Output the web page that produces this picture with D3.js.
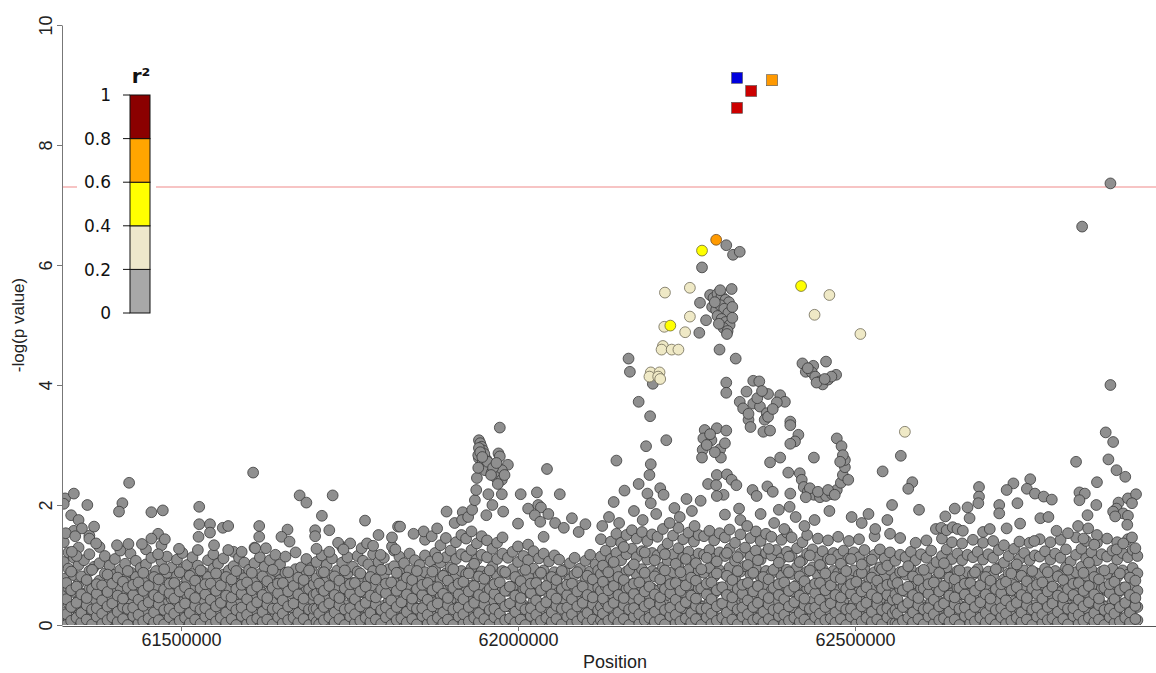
<!DOCTYPE html>
<html>
<head>
<meta charset="utf-8">
<script src="https://cdn.jsdelivr.net/npm/d3@7/dist/d3.min.js"></script>
<style>
body { margin: 0; background: #fff; }
svg { display: block; font-family: "Liberation Sans", Arial, sans-serif; }
</style>
</head>
<body>
<script>
// positions in kb, values are -log10(p)
// background band: [position, values...] per position
const bgWest = [
[61326,.03,.21,.48,.77,1.05,1.38],[61333,.12,.36,.62,.94,1.21],[61341,.06,.29,.55,.83,1.12,1.57],[61348,.17,.41,.69,1.0,1.29],
[61356,.02,.25,.52,.79,1.08],[61364,.09,.33,.6,.9,1.18,1.49],[61371,.14,.38,.66,.97],[61379,.05,.27,.5,.74,1.03,1.3],
[61387,.11,.35,.58,.86,1.15],[61394,.03,.22,.46,.71,.99],[61402,.08,.31,.57,.84,1.1],[61410,.15,.4,.63,.92,1.24],
[61417,.04,.24,.49,.76,1.02],[61425,.1,.34,.59,.88,1.19],[61433,.06,.28,.53,.8,1.07],[61440,.13,.37,.65,.95],
[61448,.02,.23,.47,.72,1.01,1.26],[61456,.09,.32,.56,.83,1.12],[61463,.16,.39,.62,.9],[61471,.05,.26,.51,.78,1.06,1.33],
[61479,.11,.35,.6,.87,1.14],[61486,.03,.21,.44,.7,.96],[61494,.08,.3,.55,.82,1.09],[61502,.14,.38,.64,.93,1.2],
[61509,.06,.27,.5,.75,1.0],[61517,.1,.33,.58,.85,1.13],[61525,.02,.24,.48,.73,.99,1.25],[61532,.12,.36,.61,.89],
[61540,.07,.29,.54,.8,1.08],[61548,.15,.4,.66,.94,1.18],[61555,.04,.25,.49,.74,1.02],[61563,.09,.31,.57,.84,1.11],
[61571,.13,.37,.63,.91],[61578,.03,.22,.46,.71,.98,1.22],[61586,.1,.34,.59,.86,1.12],[61594,.06,.28,.52,.78,1.04],
[61601,.14,.39,.65,.92],[61609,.05,.26,.5,.76,1.03,1.29],[61617,.11,.33,.58,.85,1.13],[61624,.02,.23,.47,.72,.97],
[61632,.08,.3,.56,.82,1.08],[61640,.15,.38,.62,.9,1.17],[61647,.04,.25,.49,.75,1.01],[61655,.12,.35,.6,.87,1.14],
[61663,.07,.29,.53,.79],[61670,.13,.37,.64,.93,1.21],[61678,.03,.22,.45,.7,.96],[61686,.09,.32,.57,.84,1.1],[61693,.16,.4,.66,.95]
]
const bgWestFill = [
[61330,.0,.18,.43,.7],[61337,.07,.3,.58,.89],[61345,.12,.37,.64,1.15],[61352,.04,.2,.51,.81],[61360,.09,.33,.45,.75],[61368,.01,.26,.6,.92],[61375,.14,.28,.52,.68],
[61383,.02,.19,.41,.66],[61391,.08,.31,.55,.84],[61398,.13,.36,.69],[61406,.05,.22,.49,.79],[61414,.1,.3,.44,.72],[61421,.0,.27,.62,.9],[61429,.15,.29,.5,.67],
[61437,.03,.17,.42,.71],[61444,.06,.32,.57,.87],[61452,.11,.38,.65],[61460,.04,.21,.5,.8],[61467,.08,.34,.46,.76],[61475,.01,.25,.59,.93],[61483,.13,.27,.53,.69],
[61490,.0,.19,.44,.7],[61498,.07,.29,.56,.88],[61506,.12,.36,.63],[61513,.03,.2,.52,.82],[61521,.09,.32,.45,.74],[61529,.02,.26,.61,.91],[61536,.14,.28,.51,.68],
[61544,.01,.18,.42,.69],[61552,.06,.31,.57,.86],[61559,.12,.37,.66],[61567,.04,.21,.49,.8],[61575,.1,.33,.46,.76],[61582,.0,.25,.6,.9],[61590,.15,.29,.52,.67],
[61598,.02,.17,.43,.71],[61605,.07,.3,.58,.87],[61613,.11,.38,.64],[61621,.05,.22,.5,.81],[61628,.09,.34,.45,.73],[61636,.01,.27,.62,.92],[61644,.13,.28,.53,.69],
[61651,.03,.19,.41,.7],[61659,.08,.31,.56,.88],[61667,.12,.36,.65],[61674,.04,.2,.51,.79],[61682,.1,.33,.44,.75],[61690,.0,.26,.6,.91],[61697,.14,.27,.5,.68]
]
const bgCentre = [
[61701,.05,.27,.52,.78,1.05],[61709,.11,.34,.6,.88,1.16],[61716,.03,.23,.47,.73,1.0],[61724,.08,.31,.56,.83,1.11],
[61732,.14,.38,.63,.91],[61739,.06,.26,.5,.77,1.04,1.3],[61747,.1,.33,.58,.86,1.13],[61755,.02,.21,.45,.7,.97],
[61762,.13,.36,.61,.89,1.15],[61770,.07,.29,.54,.8,1.07],[61778,.04,.24,.48,.74,1.01],[61785,.12,.35,.62,.9,1.18],
[61793,.06,.28,.53,.79,1.05],[61801,.09,.32,.57,.84,1.12],[61808,.15,.39,.65,.93],[61816,.03,.22,.46,.72,.98,1.24],
[61824,.1,.34,.59,.87,1.14],[61831,.05,.26,.51,.77,1.03],[61839,.13,.37,.63,.91,1.19],[61847,.07,.3,.55,.81,1.08],
[61854,.02,.23,.48,.74,1.0],[61862,.11,.35,.6,.88,1.16,1.42],[61870,.06,.27,.52,.78,1.06],[61877,.14,.38,.64,.92,1.2],
[61885,.04,.25,.5,.76,1.04,1.33],[61893,.09,.32,.58,.86,1.13,1.45],[61900,.16,.4,.67,.96,1.24],[61908,.05,.28,.54,.82,1.1,1.38],
[61916,.12,.36,.62,.9,1.18,1.5],[61923,.07,.3,.56,.85,1.14,1.44],[61931,.14,.39,.66,.95,1.25,1.56],[61939,.03,.26,.52,.8,1.09,1.36],
[61946,.1,.34,.61,.89,1.17,1.48],[61954,.06,.29,.55,.84,1.13,1.41],[61962,.15,.4,.67,.97,1.27],[61969,.04,.27,.53,.81,1.1,1.37],
[61977,.11,.35,.62,.9,1.19,1.46],[61985,.07,.31,.57,.85,1.12],[61992,.13,.38,.64,.93,1.22],[62000,.02,.24,.5,.77,1.05,1.31],
[62008,.09,.33,.59,.87,1.15],[62015,.05,.28,.54,.81,1.08,1.34],[62023,.14,.39,.65,.94,1.23],[62031,.06,.3,.56,.83,1.11],
[62038,.11,.36,.62,.91,1.19,1.47],[62046,.03,.25,.51,.78,1.06],[62054,.1,.34,.6,.88,1.16],[62061,.07,.29,.55,.82,1.09],
[62069,.13,.37,.63,.92],[62077,.04,.26,.5,.76,1.03],[62084,.09,.32,.57,.84,1.12],[62092,.15,.4,.66,.94],
[62100,.06,.27,.52,.79,1.07],[62107,.11,.35,.61,.89,1.17],[62115,.02,.23,.48,.74,1.01]
]
const bgCentreFill = [
[61705,.01,.19,.42,.69],[61712,.08,.3,.57,.88],[61720,.13,.36,.65],[61728,.04,.21,.5,.81],[61735,.1,.33,.45,.74],[61743,.0,.26,.61,.91],[61751,.14,.28,.52,.68],
[61758,.03,.18,.43,.7],[61766,.07,.31,.56,.86],[61774,.12,.37,.64],[61781,.05,.2,.49,.8],[61789,.09,.34,.46,.76],[61797,.02,.25,.59,.92],[61804,.13,.29,.53,.69],
[61812,.0,.19,.41,.71],[61820,.08,.3,.57,.87],[61827,.11,.38,.66],[61835,.04,.22,.51,.79],[61843,.1,.32,.44,.75],[61850,.01,.27,.6,.9],[61858,.15,.28,.5,.67],
[61866,.02,.17,.42,.7],[61873,.07,.31,.58,.89],[61881,.12,.36,.63,1.12],[61889,.03,.21,.52,.82],[61896,.09,.33,.45,.74],[61904,.0,.26,.62,.93],[61912,.14,.29,.51,.69],
[61919,.02,.18,.43,.72],[61927,.06,.3,.56,.86],[61935,.12,.37,.65,1.02],[61942,.05,.2,.5,.81],[61950,.1,.34,.46,.77],[61958,.01,.25,.6,.91],[61965,.13,.27,.52,.68],
[61973,.03,.19,.44,.71],[61981,.08,.31,.57,.88],[61988,.11,.36,.64],[61996,.04,.22,.49,.8],[62004,.09,.33,.45,.73],[62011,.0,.26,.61,.92],[62019,.15,.28,.53,.69],
[62027,.02,.17,.41,.7],[62034,.07,.3,.58,.87],[62042,.12,.38,.65],[62050,.05,.21,.51,.8],[62057,.1,.32,.44,.75],[62065,.01,.27,.6,.9],[62073,.14,.29,.5,.67],
[62080,.03,.18,.43,.69],[62088,.06,.31,.56,.88],[62096,.13,.37,.64],[62103,.04,.2,.5,.82],[62111,.09,.34,.46,.76],[62119,.0,.25,.62,.91]
]
const bgPeak = [
[62123,.08,.31,.57,.85,1.14,1.43],[62130,.14,.38,.65,.94,1.24],[62138,.05,.27,.53,.81,1.1,1.39],[62146,.11,.35,.62,.91,1.2,1.52],
[62153,.03,.25,.51,.79,1.08,1.37],[62161,.09,.33,.6,.89,1.18,1.5],[62169,.16,.41,.68,.97,1.27,1.58],[62176,.06,.29,.55,.84,1.13,1.44],
[62184,.12,.37,.64,.93,1.23,1.55],[62192,.04,.26,.52,.8,1.09,1.4],[62199,.1,.34,.61,.9,1.2,1.51],[62207,.07,.3,.57,.86,1.16,1.47],
[62215,.14,.39,.66,.96,1.26,1.6],[62222,.02,.24,.5,.78,1.07,1.36],[62230,.09,.32,.59,.88,1.18,1.49],[62238,.15,.4,.67,.97,1.28,1.62],
[62245,.05,.28,.54,.83,1.12,1.43],[62253,.12,.36,.63,.92,1.22,1.54],[62261,.03,.25,.51,.79,1.08,1.39],[62268,.1,.34,.61,.9,1.19,1.5],
[62276,.07,.31,.58,.87,1.17,1.48],[62284,.13,.38,.65,.95,1.25,1.57],[62291,.04,.27,.53,.81,1.1,1.41],[62299,.11,.35,.62,.91,1.21,1.53],
[62307,.06,.29,.56,.85,1.15,1.46],[62314,.14,.39,.67,.96,1.27,1.59],[62322,.02,.24,.5,.78,1.07,1.37],[62330,.09,.33,.6,.89,1.19,1.51],
[62337,.15,.41,.68,.98,1.29],[62345,.05,.28,.55,.84,1.14,1.45],[62353,.12,.37,.64,.94,1.24,1.56],[62360,.03,.26,.52,.8,1.09,1.4],
[62368,.1,.34,.61,.9,1.2,1.52],[62376,.07,.3,.57,.86,1.16,1.47],[62383,.13,.38,.66,.95,1.25],[62391,.04,.27,.53,.82,1.11,1.42],
[62399,.11,.36,.63,.92,1.22,1.54],[62406,.06,.29,.56,.85,1.15,1.46],[62414,.14,.4,.67,.97,1.28],[62422,.02,.25,.51,.79,1.08,1.38],
[62429,.09,.33,.6,.89,1.19,1.5],[62437,.15,.39,.66,.96,1.26],[62445,.05,.28,.55,.83,1.13,1.44],[62452,.12,.36,.63,.93,1.23],
[62460,.03,.26,.52,.81,1.1,1.41],[62468,.1,.34,.61,.9,1.2],[62475,.07,.31,.58,.87,1.17,1.47],[62483,.13,.38,.65,.94,1.24],
[62491,.04,.27,.53,.82,1.11,1.4],[62498,.11,.35,.62,.91,1.21],[62506,.06,.29,.56,.84,1.13,1.43],[62514,.14,.39,.66,.95,1.25],
[62521,.02,.24,.5,.78,1.07],[62529,.09,.32,.59,.88,1.17,1.48],[62537,.15,.4,.67,.96,1.26],[62544,.05,.28,.54,.82,1.11],
[62552,.12,.36,.63,.92,1.21,1.52]
]
const bgPeakFill = [
[62126,.01,.19,.44,.72,.99],[62134,.07,.3,.58,.88],[62142,.12,.37,.65,1.05],[62149,.04,.21,.5,.8],[62157,.1,.33,.45,.75,1.3],[62165,.0,.26,.62,.92],[62172,.14,.28,.52,.69,1.01],
[62180,.02,.18,.43,.71],[62188,.08,.31,.56,.87,1.21],[62195,.12,.36,.64],[62203,.05,.22,.51,.81,1.08],[62211,.09,.34,.46,.76],[62218,.01,.25,.6,.91,1.18],[62226,.15,.29,.53,.68],
[62234,.03,.17,.42,.7,1.02],[62241,.06,.3,.57,.88],[62249,.11,.38,.66,1.1],[62257,.04,.2,.49,.79],[62264,.1,.32,.44,.74,1.03],[62272,.0,.27,.61,.93],[62280,.13,.28,.51,.69,1.12],
[62287,.02,.19,.43,.71],[62295,.07,.31,.58,.86,1.06],[62303,.12,.36,.63],[62310,.05,.21,.5,.82,1.2],[62318,.09,.33,.46,.75],[62326,.01,.26,.6,.9,1.13],[62333,.14,.29,.52,.67],
[62341,.03,.18,.41,.7,1.0],[62349,.08,.3,.56,.87],[62356,.11,.37,.65,1.08],[62364,.04,.22,.51,.8],[62372,.1,.34,.45,.76,1.27],[62379,.0,.25,.62,.92],[62387,.15,.28,.5,.68,1.04],
[62395,.02,.17,.43,.71],[62402,.07,.31,.57,.88,1.14],[62410,.12,.38,.64],[62418,.05,.2,.49,.81,1.05],[62425,.09,.33,.44,.73],[62433,.01,.27,.61,.91,1.16],[62441,.13,.29,.53,.69],
[62448,.03,.19,.42,.7,1.0],[62456,.08,.3,.58,.86],[62464,.11,.36,.66,1.09],[62471,.04,.21,.5,.8],[62479,.1,.32,.46,.77,1.02],[62487,.0,.26,.6,.9],[62494,.14,.27,.52,.68,1.1],
[62502,.02,.18,.44,.72],[62510,.06,.31,.56,.87,1.01],[62517,.12,.37,.63],[62525,.05,.22,.51,.79,1.09],[62533,.09,.34,.45,.74],[62540,.01,.25,.61,.93],[62548,.13,.28,.5,.67,.99],[62556,.03,.2,.42,.7]
]
const bgEast = [
[62560,.03,.25,.51,.79,1.07],[62567,.1,.34,.6,.88,1.17,1.45],[62575,.07,.3,.56,.84,1.13],[62583,.13,.38,.65,.93,1.22],
[62590,.04,.26,.52,.8,1.08,1.37],[62598,.11,.35,.61,.89,1.18],[62606,.06,.29,.55,.83,1.12,1.41],[62613,.14,.39,.66,.95,1.24],
[62621,.02,.24,.49,.77,1.05],[62629,.09,.32,.58,.86,1.15,1.44],[62636,.15,.4,.67,.96,1.26],[62644,.05,.27,.53,.81,1.1,1.38],
[62652,.12,.36,.62,.9,1.19],[62659,.03,.25,.51,.79,1.08,1.36],[62667,.1,.34,.6,.88,1.17],[62675,.07,.3,.56,.84,1.13,1.42],
[62682,.13,.38,.64,.93,1.22],[62690,.04,.26,.52,.8,1.09,1.37],[62698,.11,.35,.61,.89,1.18],[62705,.06,.28,.55,.83,1.12,1.4],
[62713,.14,.39,.66,.95,1.25],[62721,.02,.23,.49,.76,1.04,1.33],[62728,.09,.32,.58,.86,1.15],[62736,.15,.4,.67,.97,1.27],
[62744,.05,.27,.53,.81,1.1,1.39],[62751,.12,.36,.62,.91,1.2],[62759,.03,.25,.51,.79,1.08,1.37],[62767,.1,.33,.59,.87,1.16],
[62774,.07,.3,.56,.85,1.14,1.43],[62782,.13,.38,.65,.94,1.23],[62790,.04,.26,.52,.8,1.09,1.38],[62797,.11,.35,.61,.9,1.19],
[62805,.06,.29,.55,.83,1.12,1.42],[62813,.14,.39,.66,.96,1.26],[62820,.02,.24,.5,.78,1.06],[62828,.09,.33,.59,.88,1.17,1.46],
[62836,.15,.4,.67,.97,1.27],[62843,.05,.28,.54,.82,1.11,1.4],[62851,.12,.36,.63,.92,1.21],[62859,.03,.25,.51,.79,1.08,1.37],
[62866,.1,.34,.6,.89,1.18],[62874,.07,.31,.57,.85,1.14,1.44],[62882,.13,.38,.65,.94,1.24],[62889,.04,.26,.52,.8,1.09,1.38],
[62897,.11,.35,.62,.91,1.2],[62905,.06,.29,.55,.84,1.13,1.43],[62912,.14,.39,.66,.95,1.25],[62919,.08,.3,.57,.86,1.15]
]
const bgEastFill = [
[62563,.0,.19,.43,.7],[62571,.07,.3,.58,.89],[62579,.12,.37,.64,.98],[62586,.04,.21,.5,.81],[62594,.1,.33,.45,.75],[62602,.01,.26,.61,.92],[62609,.14,.28,.52,.68],
[62617,.02,.18,.42,.71],[62625,.08,.31,.56,.87],[62632,.11,.36,.65,1.03],[62640,.05,.22,.49,.79],[62648,.09,.34,.46,.76],[62655,.0,.27,.62,.91],[62663,.15,.29,.51,.69],
[62671,.03,.17,.43,.7],[62678,.06,.3,.57,.88],[62686,.12,.38,.66],[62694,.04,.2,.51,.8],[62701,.1,.32,.44,.74],[62709,.01,.25,.6,.93],[62717,.13,.28,.53,.68],
[62724,.02,.19,.41,.72],[62732,.07,.31,.58,.86],[62740,.12,.37,.63,1.01],[62747,.05,.21,.5,.82],[62755,.09,.33,.45,.73],[62763,.0,.26,.61,.9],[62770,.14,.29,.52,.67],
[62778,.03,.18,.44,.71],[62786,.08,.3,.56,.88],[62793,.11,.36,.64],[62801,.04,.22,.49,.81],[62809,.1,.34,.46,.75],[62816,.01,.27,.6,.92],[62824,.15,.28,.5,.69],
[62832,.02,.17,.42,.7],[62839,.07,.31,.57,.87],[62847,.12,.38,.65,1.04],[62855,.05,.2,.51,.8],[62862,.09,.33,.44,.76],[62870,.0,.25,.62,.91],[62878,.13,.27,.53,.68],
[62885,.03,.19,.43,.72],[62893,.06,.3,.58,.86],[62901,.12,.37,.63],[62908,.04,.21,.5,.79],[62916,.1,.32,.45,.74]
]

// scattered grey SNPs (r2 < 0.2) above the band
const greyWest = [
[61328,2.11],[61326,2.02],[61341,2.19],[61361,2.0],[61337,1.83],[61348,1.75],[61353,1.61],[61371,1.64],[61329,1.53],[61343,1.48],
[61364,1.44],[61374,1.36],[61338,1.22],[61423,2.37],[61413,2.03],[61408,1.89],[61456,1.88],[61473,1.91],[61466,1.52],[61476,1.43],
[61456,1.44],[61442,1.35],[61422,1.35],[61405,1.33],[61466,1.18],[61527,1.97],[61527,1.68],[61543,1.68],[61526,1.47],[61543,1.54],
[61562,1.62],[61570,1.65],[61549,1.33],[61497,1.27],[61607,2.54],[61616,1.65],[61616,1.47],[61570,1.25],[61590,1.22],[61610,1.28],
[61626,1.28],[61676,2.16],[61686,2.04],[61725,2.16],[61709,1.82],[61720,1.58],[61658,1.59],[61649,1.47],[61661,1.39],[61699,1.58],
[61699,1.48],[61701,1.27],[61720,1.22],[61733,1.37],[61751,1.36],[61741,1.26],[61768,1.28],[61776,1.36],[61785,1.32],[61796,1.17],
[61813,1.31],[61818,1.26],[61773,1.74],[61793,1.5],[61813,1.46],[61822,1.64],[61825,1.64],[61860,1.56],[61845,1.52],[61872,1.48],[61880,1.61]
]
const greyCentre = [
[61894,1.89],[61918,1.88],[61953,1.83],[61978,1.89],[62015,1.94],[62030,2.0],[62034,1.96],[62025,1.83],[62033,1.72],[62000,1.69],
[61973,3.29],[61942,3.08],[61944,3.03],[61946,2.97],[61948,2.91],[61971,2.86],[61973,2.81],[61942,2.78],[61953,2.76],[61958,2.69],
[61946,2.67],[61985,2.67],[61951,2.58],[61961,2.54],[61976,2.58],[61966,2.47],[61976,2.42],[62043,2.6],[61956,2.18],[61976,2.18],
[62004,2.18],[62028,2.21],[62062,2.18],[61962,2.0],[61906,1.7],[61917,1.75],[61926,1.8],[61932,1.92],[61936,2.08],[61938,2.25],
[61939,2.45],[61941,2.62],[61941,2.83],[61942,2.95],[61950,2.85],[61955,2.72],[61963,2.62],[61968,2.7],[61944,2.88],[61947,2.8],
[61960,2.5],[61970,2.35],[61980,2.5],[62045,1.85],[62055,1.7],[62068,1.62],[62080,1.78],[62090,1.55],[62100,1.68]
]
const greyPeak = [
[62146,2.74],[62164,4.44],[62166,4.22],[62179,3.72],[62196,3.48],[62220,3.08],[62190,2.98],[62197,2.68],[62195,2.5],[62179,2.35],
[62158,2.24],[62211,2.28],[62216,2.17],[62192,2.19],[62197,2.03],[62200,4.02],[62309,6.33],[62319,6.17],[62329,6.22],[62273,5.96],
[62285,5.5],[62317,5.6],[62270,5.37],[62279,5.08],[62269,4.87],[62290,5.45],[62296,5.52],[62302,5.48],[62308,5.42],[62313,5.38],
[62288,5.3],[62294,5.25],[62300,5.33],[62306,5.27],[62312,5.2],[62318,5.3],[62296,5.15],[62302,5.1],[62308,5.05],[62314,5.0],
[62305,4.95],[62311,4.9],[62298,5.02],[62318,5.12],[62300,5.58],[62292,5.38],[62310,4.85],[62299,4.59],[62323,4.44],[62309,4.04],
[62309,3.87],[62349,4.07],[62358,4.06],[62339,3.89],[62371,3.85],[62389,3.83],[62396,3.72],[62384,3.71],[62329,3.72],[62334,3.61],
[62349,3.69],[62359,3.64],[62369,3.53],[62366,3.42],[62342,3.42],[62371,3.47],[62364,3.22],[62374,3.24],[62404,3.39],[62404,3.33],
[62342,3.52],[62355,3.78],[62362,3.9],[62378,3.6],[62345,3.3],[62422,4.36],[62438,4.32],[62457,4.39],[62427,4.22],[62436,4.21],
[62441,4.14],[62448,4.06],[62452,4.01],[62460,4.09],[62472,4.17],[62465,4.14],[62443,4.04],[62430,4.28],[62455,4.1],[62277,3.25],
[62295,3.28],[62309,3.24],[62275,3.11],[62287,3.08],[62274,2.92],[62300,2.93],[62307,3.03],[62273,2.79],[62301,2.79],[62280,3.0],
[62292,2.88],[62285,3.18],[62295,2.5],[62310,2.51],[62317,2.42],[62282,2.35],[62294,2.33],[62324,2.33],[62305,2.17],[62295,2.15],
[62271,2.07],[62307,1.84],[62328,1.94],[62416,3.17],[62411,3.06],[62404,3.02],[62374,2.71],[62389,2.79],[62401,2.54],[62348,2.25],
[62354,2.15],[62370,2.31],[62378,2.22],[62387,1.92],[62404,2.19],[62403,1.97],[62439,2.79],[62473,3.11],[62480,2.98],[62418,2.53],
[62421,2.42],[62424,2.3],[62430,2.22],[62439,2.17],[62448,2.13],[62457,2.15],[62466,2.18],[62473,2.25],[62479,2.37],[62482,2.5],
[62485,2.63],[62485,2.75],[62482,2.83],[62478,2.72],[62433,2.28],[62427,2.13],[62445,2.22],[62460,2.25],[62470,2.17],[62490,2.42],
[62125,1.65],[62135,1.8],[62142,2.05],[62150,1.7],[62172,1.9],[62185,1.75],[62205,1.85],[62225,1.7],[62232,1.95],[62240,1.8],
[62250,2.1],[62258,1.9],[62262,1.65],[62330,1.75],[62340,1.65],[62360,1.85],[62380,1.7],[62395,1.6],[62412,1.8],[62425,1.65],
[62440,1.75],[62462,1.9],[62495,1.8],[62510,1.7],[62520,1.85],[62530,1.6],[62548,1.75],[62555,2.0]
]
const greyEast = [
[62568,2.82],[62541,2.56],[62585,2.38],[62579,2.27],[62684,2.3],[62735,2.36],[62760,2.43],[62725,2.25],[62755,2.27],[62767,2.19],
[62780,2.14],[62792,2.09],[62833,2.21],[62841,2.19],[62858,2.0],[62845,1.83],[62891,2.04],[62905,2.11],[62917,2.18],[62888,1.94],
[62898,1.86],[62911,2.03],[62684,2.14],[62683,2.03],[62714,2.0],[62714,1.86],[62741,2.03],[62648,1.94],[62667,1.96],[62595,1.92],
[62634,1.81],[62775,1.78],[62787,1.8],[62670,1.78],[62879,7.36],[62837,6.64],[62879,4.0],[62872,3.21],[62883,3.05],[62876,2.76],
[62888,2.58],[62901,2.47],[62828,2.72],[62859,2.38],[62833,2.08],[62745,1.69],[62725,1.61],[62766,1.4],[62799,1.57],[62816,1.53],
[62831,1.65],[62846,1.61],[62859,1.5],[62855,1.34],[62839,1.44],[62888,1.26],[62898,1.36],[62911,1.46],[62916,1.28],[62883,1.89],
[62886,1.81],[62905,1.82],[62904,1.67],[62620,1.6],[62628,1.62],[62636,1.58],[62645,1.63],[62652,1.6],[62660,1.57],[62690,1.55],[62700,1.6]
]

// SNPs with higher LD, by r2 bin
const ldLow = [
[62218,5.54],[62255,5.62],[62255,5.14],[62248,4.88],[62217,4.97],[62215,4.65],[62213,4.59],[62228,4.59],[62238,4.59],
[62197,4.21],[62210,4.21],[62195,4.14],[62208,4.14],[62211,4.1],[62462,5.5],[62440,5.17],[62508,4.85],[62574,3.22]
]
const ldMid = [[62273,6.24],[62420,5.65],[62226,4.99]]
const ldHigh = [[62294,6.42]]

// typed SNPs drawn as squares: position, -log p, r2 (null = lead SNP)
const topPos = [62325, 62346, 62377, 62325]
const topLogP = [9.12, 8.9, 9.08, 8.62]
const topR2 = [null, 0.9, 0.7, 0.9]

const yTicks = [0, 2, 4, 6, 8, 10]
const xTicks = [61500000, 62000000, 62500000]
const r2Breaks = [0, 0.2, 0.4, 0.6, 0.8, 1]
const r2Labels = ["0", "0.2", "0.4", "0.6", "0.8", "1"]
const r2Colours = ["#a8a8a8", "#eee8cb", "#ffff00", "#ffa500", "#8b0000"]
const threshold = 7.3

const width = 1156, height = 673

const x = d3.scaleLinear().domain([61323400, 62946600]).range([62, 1156])
const y = d3.scaleLinear().domain([0, 10]).range([625, 25])

const svg = d3.select("body").append("svg")
    .attr("width", width)
    .attr("height", height)

svg.append("defs").append("clipPath").attr("id", "plot")
    .append("rect")
    .attr("x", 62).attr("y", 20)
    .attr("width", width - 62).attr("height", 605)

const expand = cols => cols.flatMap(c => c.slice(1).map(v => [c[0], v]))

const grey = [].concat(
    expand(bgWest), expand(bgWestFill), expand(bgCentre), expand(bgCentreFill),
    expand(bgPeak), expand(bgPeakFill), expand(bgEast), expand(bgEastFill),
    greyWest, greyCentre, greyPeak, greyEast)

const g = svg.append("g").attr("clip-path", "url(#plot)")

g.append("line")
    .attr("x1", 62).attr("x2", width)
    .attr("y1", y(threshold)).attr("y2", y(threshold))
    .attr("stroke", "#f08a8a")
    .attr("stroke-width", 1.2)

function dots(data, fill, stroke) {
    g.append("g").selectAll("circle")
        .data(data)
        .join("circle")
        .attr("cx", d => x(d[0] * 1000))
        .attr("cy", d => y(d[1]))
        .attr("r", 5.4)
        .attr("fill", fill)
        .attr("stroke", stroke)
        .attr("stroke-width", 0.8)
}

dots(grey, "#8f8f8f", "#383838")
dots(ldLow, "#efe9c6", "#6e6a55")
dots(ldMid, "#ffff00", "#6e6a30")
dots(ldHigh, "#ff9a00", "#6e4a20")

const squareColour = r => r === null ? "#0000dd" : r >= 0.8 ? "#cc0000" : "#ff9900"

g.append("g").selectAll("rect")
    .data(topPos.map((p, i) => ({ p, v: topLogP[i], r: topR2[i] })))
    .join("rect")
    .attr("x", d => x(d.p * 1000) - 5.5)
    .attr("y", d => y(d.v) - 5.5)
    .attr("width", 11)
    .attr("height", 11)
    .attr("fill", d => squareColour(d.r))
    .attr("stroke", "#555")
    .attr("stroke-width", 0.6)

// axes
const yAxis = svg.append("g")
    .attr("transform", "translate(62,0)")
    .call(d3.axisLeft(y).tickValues(yTicks).tickSize(5).tickSizeOuter(0))
yAxis.select(".domain").attr("stroke", "#777")
yAxis.selectAll(".tick line").attr("stroke", "#777")
yAxis.selectAll(".tick text")
    .attr("x", null).attr("dy", null)
    .attr("transform", "translate(-10,0) rotate(-90)")
    .attr("text-anchor", "middle")
    .attr("font-size", 18)
    .attr("font-family", "Liberation Sans, Arial, sans-serif")
    .attr("fill", "#222")

const xAxis = svg.append("g")
    .attr("transform", "translate(0,626)")
    .call(d3.axisBottom(x).tickValues(xTicks).tickFormat(d3.format("d")).tickSize(5).tickSizeOuter(0))
xAxis.select(".domain").attr("stroke", "#555")
xAxis.selectAll(".tick line").attr("stroke", "#777")
xAxis.selectAll(".tick text")
    .attr("y", 7)
    .attr("font-size", 18)
    .attr("font-family", "Liberation Sans, Arial, sans-serif")
    .attr("fill", "#222")

svg.append("text")
    .attr("transform", "translate(24,325) rotate(-90)")
    .attr("text-anchor", "middle")
    .attr("font-size", 17)
    .attr("fill", "#222")
    .text("-log(p value)")

svg.append("text")
    .attr("x", 615).attr("y", 668)
    .attr("text-anchor", "middle")
    .attr("font-size", 18)
    .attr("fill", "#222")
    .text("Position")

// r2 legend
const legend = svg.append("g")
const ly = d3.scaleLinear().domain([0, 1]).range([313, 95])

legend.append("rect")
    .attr("x", 77).attr("y", 60)
    .attr("width", 79).attr("height", 264)
    .attr("fill", "#fff")

legend.selectAll(".band")
    .data(r2Colours)
    .join("rect")
    .attr("class", "band")
    .attr("x", 130)
    .attr("y", (c, i) => ly(r2Breaks[i + 1]))
    .attr("width", 20)
    .attr("height", (c, i) => ly(r2Breaks[i]) - ly(r2Breaks[i + 1]))
    .attr("fill", c => c)
    .attr("stroke", "#111")
    .attr("stroke-width", 1)

legend.selectAll(".tick")
    .data(r2Breaks)
    .join("line")
    .attr("class", "tick")
    .attr("x1", 123).attr("x2", 130)
    .attr("y1", d => ly(d)).attr("y2", d => ly(d))
    .attr("stroke", "#111")

legend.selectAll(".lab")
    .data(r2Breaks)
    .join("text")
    .attr("class", "lab")
    .attr("x", 111)
    .attr("y", d => ly(d))
    .attr("dy", "0.36em")
    .attr("text-anchor", "end")
    .attr("font-family", "DejaVu Sans, sans-serif")
    .attr("font-size", 17)
    .attr("fill", "#111")
    .text((d, i) => r2Labels[i])

legend.append("text")
    .attr("x", 141).attr("y", 83)
    .attr("text-anchor", "middle")
    .attr("font-family", "DejaVu Sans, sans-serif")
    .attr("font-weight", "bold")
    .attr("font-size", 20)
    .attr("fill", "#111")
    .text("r²")
</script>
</body>
</html>
